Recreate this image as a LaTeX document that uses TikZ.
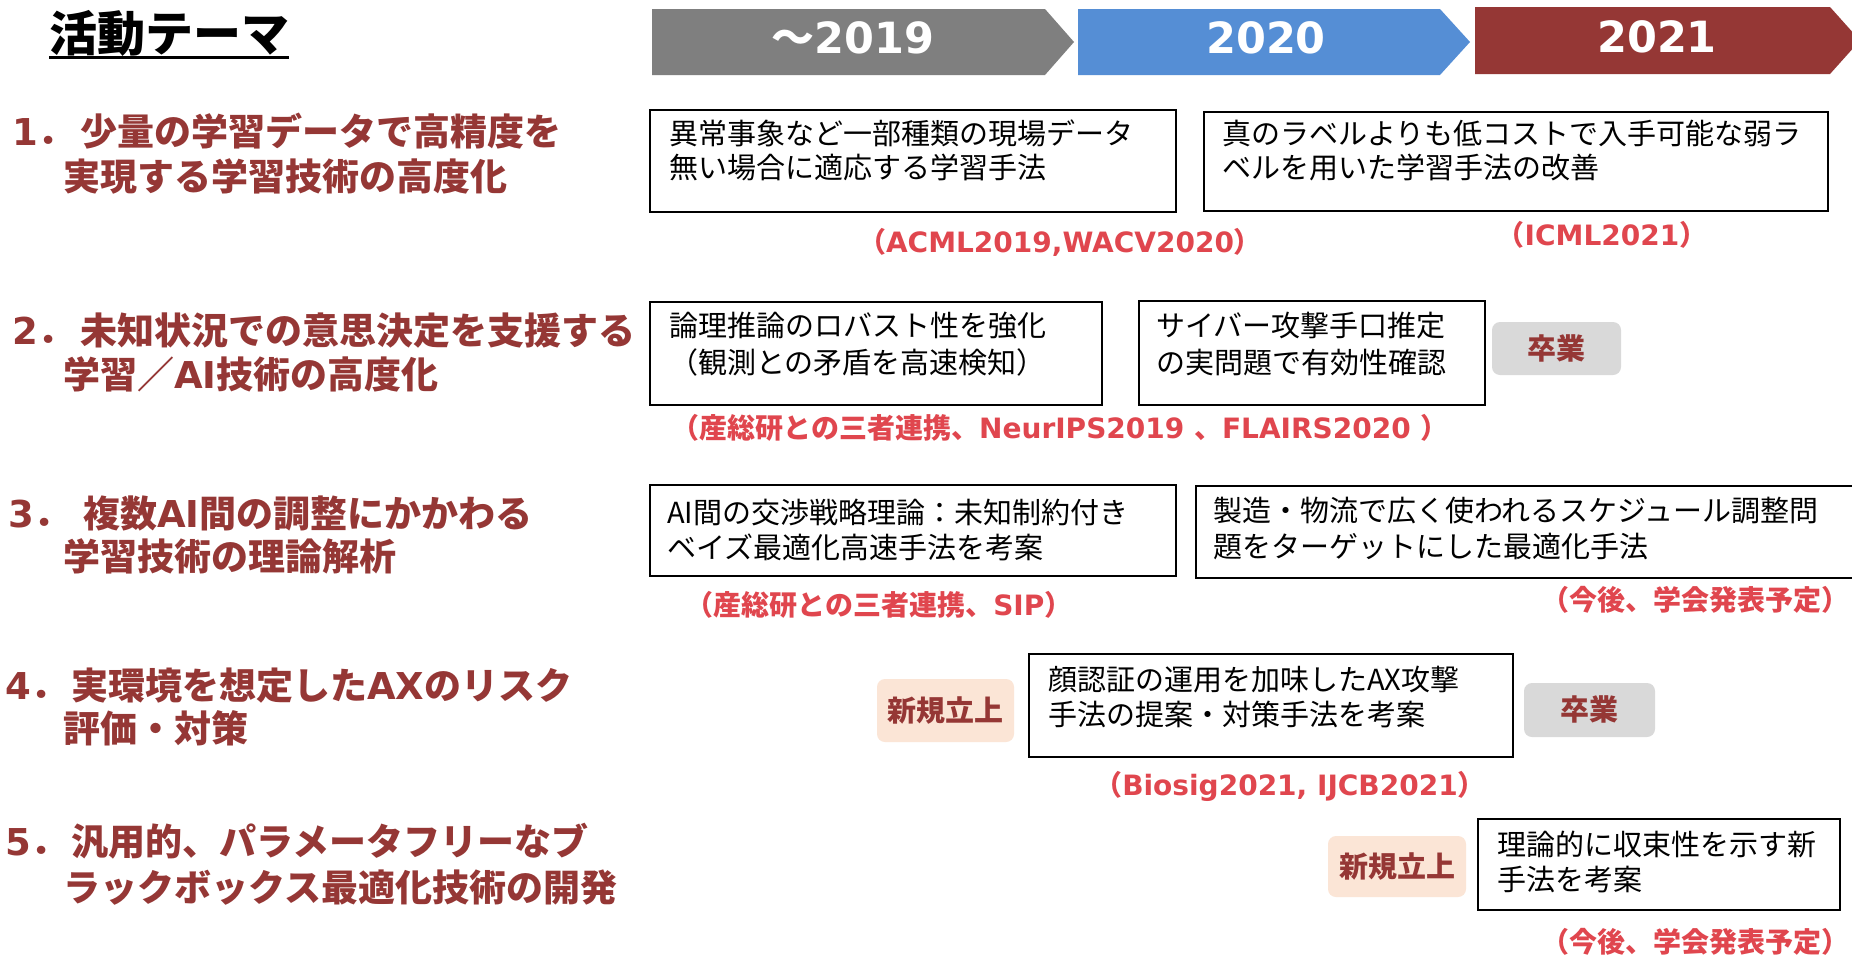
\documentclass[tikz,border=0pt]{standalone}
\usepackage{fontspec}
\newfontfamily\jpf{Noto Sans CJK JP}
\newfontfamily\latf{DejaVu Sans}
\newcommand\lb[1]{{\latf\bfseries #1}}
\definecolor{hdred}{HTML}{953735}
\definecolor{citred}{HTML}{E0464E}
\definecolor{chgray}{HTML}{7F7F7F}
\definecolor{chblue}{HTML}{558ED5}
\definecolor{pillgray}{HTML}{D9D9D9}
\definecolor{pillorange}{HTML}{FBE5D6}
\begin{document}
\begin{tikzpicture}[x=1pt,y=-1pt,
  heading/.style={anchor=west, inner sep=0, text=hdred, font=\jpf\bfseries\fontsize{37}{44}\selectfont, text height=33pt, text depth=4pt},
  box/.style={draw=black, line width=2pt, anchor=north west, inner sep=0, fill=white},
  bt/.style={anchor=west, inner sep=0, font=\jpf\fontsize{29}{35}\selectfont, text height=25.5pt, text depth=3.5pt},
  cite/.style={inner sep=0, text=citred, font=\jpf\bfseries\fontsize{28}{34}\selectfont, text height=24pt, text depth=4pt},
  pill/.style={rounded corners=8pt, inner sep=0, text=hdred, font=\jpf\bfseries\fontsize{29}{35}\selectfont, text height=25pt, text depth=4pt},
  chevtext/.style={text=white, inner sep=0, font=\latf\bfseries\fontsize{43}{50}\selectfont, text height=31pt, text depth=0pt}
]
\fill[white] (0,0) rectangle (1852,956);
\useasboundingbox (0,0) rectangle (1852,956);

% title
\node[anchor=west, inner sep=0, font=\jpf\bfseries\fontsize{48}{56}\selectfont, text height=42pt, text depth=6pt] (title) at (49,33) {活動テーマ};
\draw[line width=3pt] (title.south west) -- (title.south east);

% timeline chevrons
\fill[chgray] (652,9) -- (1045,9) -- (1074,42) -- (1045,75) -- (652,75) -- cycle;
\fill[chblue] (1078,9) -- (1440,9) -- (1470,42) -- (1440,75) -- (1078,75) -- cycle;
\fill[hdred] (1475,7) -- (1830,7) -- (1860,40.5) -- (1830,74) -- (1475,74) -- cycle;
\node[chevtext] (y19) at (853,38) {{\jpf\bfseries ～}2019};
\node[chevtext] (y20) at (1266,38) {2020};
\node[chevtext] (y21) at (1657,37) {2021};

% headings
\node[heading] (h1a) at (12,131) {\makebox[68pt][l]{\lb{1}．}少量の学習データで高精度を};
\node[heading] (h1b) at (63,176) {実現する学習技術の高度化};
\node[heading] (h2a) at (12,330) {\makebox[68pt][l]{\lb{2}．}未知状況での意思決定を支援する};
\node[heading] (h2b) at (63,374) {学習／\lb{AI}技術の高度化};
\node[heading] (h3a) at (8,513) {\makebox[75pt][l]{\lb{3}．}複数\lb{AI}間の調整にかかわる};
\node[heading] (h3b) at (63,556) {学習技術の理論解析};
\node[heading] (h4a) at (5,685) {\makebox[66pt][l]{\lb{4}．}実環境を想定した\lb{AX}のリスク};
\node[heading] (h4b) at (63,728) {評価・対策};
\node[heading] (h5a) at (5,841) {\makebox[66pt][l]{\lb{5}．}汎用的、パラメータフリーなブ};
\node[heading] (h5b) at (63,887) {ラックボックス最適化技術の開発};

% row 1
\node[box, minimum width=526, minimum height=102] (b1a) at (649,109) {};
\node[bt] (t1a1) at ([shift={(20,24)}]b1a.north west) {異常事象など一部種類の現場データ};
\node[bt] (t1a2) at ([shift={(20,58)}]b1a.north west) {無い場合に適応する学習手法};
\node[box, minimum width=624, minimum height=99] (b1b) at (1203,111) {};
\node[bt] (t1b1) at ([shift={(19,22)}]b1b.north west) {真のラベルよりも低コストで入手可能な弱ラ};
\node[bt] (t1b2) at ([shift={(19,56)}]b1b.north west) {ベルを用いた学習手法の改善};
\node[cite] (c1a) at (1060,242) {（\lb{ACML2019,WACV2020}）};
\node[cite] (c1b) at (1602,235) {（\lb{ICML2021}）};

% row 2
\node[box, minimum width=452, minimum height=103] (b2a) at (649,301) {};
\node[bt] (t2a1) at ([shift={(20,24)}]b2a.north west) {論理推論のロバスト性を強化};
\node[bt] (t2a2) at ([shift={(20,61)}]b2a.north west) {（観測との矛盾を高速検知）};
\node[box, minimum width=346, minimum height=104] (b2b) at (1138,300) {};
\node[bt] (t2b1) at ([shift={(18,25)}]b2b.north west) {サイバー攻撃手口推定};
\node[bt] (t2b2) at ([shift={(18,62)}]b2b.north west) {の実問題で有効性確認};
\node[pill, fill=pillgray, minimum width=129, minimum height=53] (g1) at (1556.5,348.5) {卒業};
\node[cite] (c2) at (1060,428) {（産総研との三者連携、\lb{NeurIPS2019 }、\lb{FLAIRS2020 }）};

% row 3
\node[box, minimum width=526, minimum height=91] (b3a) at (649,484) {};
\node[bt] (t3a1) at ([shift={(18,28)}]b3a.north west) {AI間の交渉戦略理論：未知制約付き};
\node[bt] (t3a2) at ([shift={(18,63)}]b3a.north west) {ベイズ最適化高速手法を考案};
\node[box, minimum width=700, minimum height=92] (b3b) at (1195,485) {};
\node[bt] (t3b1) at ([shift={(18,25)}]b3b.north west) {製造・物流で広く使われるスケジュール調整問};
\node[bt] (t3b2) at ([shift={(18,61)}]b3b.north west) {題をターゲットにした最適化手法};
\node[cite] (c3a) at (879,605) {（産総研との三者連携、\lb{SIP}）};
\node[cite, anchor=west] (c3b) at (1541,600) {（今後、学会発表予定）};

% row 4
\node[pill, fill=pillorange, minimum width=137, minimum height=63] (n1) at (945.5,710.5) {新規立上};
\node[box, minimum width=484, minimum height=103] (b4) at (1028,653) {};
\node[bt] (t41) at ([shift={(20,26)}]b4.north west) {顔認証の運用を加味したAX攻撃};
\node[bt] (t42) at ([shift={(20,61)}]b4.north west) {手法の提案・対策手法を考案};
\node[pill, fill=pillgray, minimum width=131, minimum height=54] (g2) at (1589.5,710) {卒業};
\node[cite] (c4) at (1290,785) {（\lb{Biosig2021, IJCB2021}）};

% row 5
\node[pill, fill=pillorange, minimum width=138, minimum height=61] (n2) at (1397,866.5) {新規立上};
\node[box, minimum width=362, minimum height=91] (b5) at (1477,818) {};
\node[bt] (t51) at ([shift={(20,26)}]b5.north west) {理論的に収束性を示す新};
\node[bt] (t52) at ([shift={(20,61)}]b5.north west) {手法を考案};
\node[cite, anchor=west] (c5) at (1541,942) {（今後、学会発表予定）};
\end{tikzpicture}
\end{document}
